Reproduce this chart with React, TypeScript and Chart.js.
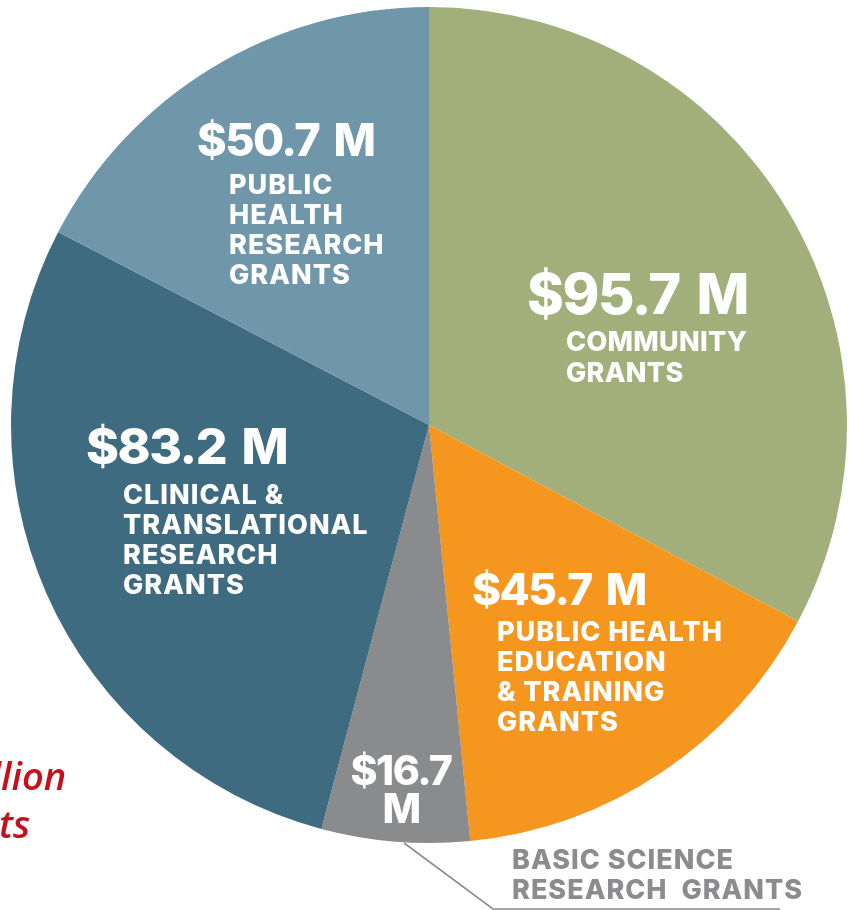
import React, { useEffect, useRef } from "react";
import { Chart, registerables } from "chart.js";

Chart.register(...registerables);

const categories = [
  "COMMUNITY GRANTS",
  "PUBLIC HEALTH EDUCATION & TRAINING GRANTS",
  "BASIC SCIENCE RESEARCH GRANTS",
  "CLINICAL & TRANSLATIONAL RESEARCH GRANTS",
  "PUBLIC HEALTH RESEARCH GRANTS",
];
const values = [95.7, 45.7, 16.7, 83.2, 50.7];
const valueLabels = ["$95.7 M", "$45.7 M", "$16.7\nM", "$83.2 M", "$50.7 M"];
const subLabels = [
  ["COMMUNITY", "GRANTS"],
  ["PUBLIC HEALTH", "EDUCATION", "& TRAINING", "GRANTS"],
  [],
  ["CLINICAL &", "TRANSLATIONAL", "RESEARCH", "GRANTS"],
  ["PUBLIC", "HEALTH", "RESEARCH", "GRANTS"],
];
const outsideLabel = ["BASIC SCIENCE", "RESEARCH  GRANTS"];
const titleLines = ["$292 Million", "in Grants"];
const titleTails = ["lion", "ts"];
const colors = ["#A2AF7B", "#F5961F", "#8A8B8D", "#3E6B80", "#7096A9"];

// layout (offsets from pie centre)
const layout = [
  { vx: 98, vy: -128, vs: 56, align: "left", sx: 137, sy: -82, lh: 31, ss: 27, sls: 0.3 },
  { vx: 43, vy: 167, vs: 44, align: "left", sx: 68, sy: 208, lh: 30, ss: 27, sls: 1 },
  { vx: -28, vy: 348, vs: 41, align: "center", sx: 0, sy: 0, lh: 38, ss: 27, sls: 1 },
  { vx: -343, vy: 24, vs: 50, align: "left", sx: -306, sy: 71, lh: 30, ss: 27, sls: 1 },
  { vx: -232, vy: -283, vs: 45, align: "left", sx: -200, sy: -239, lh: 30, ss: 27, sls: 1 },
];

const FONT = "Inter, 'Open Sans', sans-serif";

const labelPlugin = {
  id: "sliceLabels",
  afterDraw(chart: any) {
    const ctx = chart.ctx;
    const arc = chart.getDatasetMeta(0).data[0];
    if (!arc) return;
    const cx = arc.x;
    const cy = arc.y;
    ctx.save();
    ctx.textBaseline = "middle";
    layout.forEach((l, i) => {
      ctx.fillStyle = "#ffffff";
      ctx.textAlign = l.align;
      ctx.letterSpacing = "-1.5px";
      ctx.wordSpacing = "6px";
      ctx.font = `800 ${l.vs}px ${FONT}`;
      const vlines = valueLabels[i].split("\n");
      vlines.forEach((t, j) => ctx.fillText(t, cx + l.vx, cy + l.vy + j * l.lh));
      ctx.wordSpacing = "0px";
      ctx.letterSpacing = `${l.sls}px`;
      ctx.font = `800 ${l.ss}px ${FONT}`;
      ctx.textAlign = "left";
      subLabels[i].forEach((t, j) => ctx.fillText(t, cx + l.sx, cy + l.sy + j * l.lh));
    });
    // outside label for basic science
    ctx.fillStyle = "#8C8C8E";
    ctx.letterSpacing = "1px";
    ctx.font = `800 27px ${FONT}`;
    ctx.textAlign = "left";
    outsideLabel.forEach((t, j) => ctx.fillText(t, cx + 83, cy + 436 + j * 30));
    ctx.letterSpacing = "0px";
    ctx.strokeStyle = "#8C8C8E";
    ctx.lineWidth = 1.6;
    ctx.beginPath();
    ctx.moveTo(cx - 25, cy + 418);
    ctx.lineTo(cx + 64, cy + 484);
    ctx.lineTo(cx + 351, cy + 484);
    ctx.stroke();
    // partially visible title text on the left
    ctx.fillStyle = "#C4121D";
    ctx.font = `italic 600 38px 'Open Sans', sans-serif`;
    ctx.textAlign = "right";
    ctx.textBaseline = "alphabetic";
    const starts = [1, -1];
    const baselines = [790, 838];
    titleLines.forEach((t, j) => {
      const w = ctx.measureText(titleTails[j]).width;
      ctx.fillText(t, starts[j] + w, baselines[j]);
    });
    ctx.restore();
  },
};

export default function App() {
  const ref = useRef<HTMLCanvasElement>(null);
  useEffect(() => {
    if (!ref.current) return;
    const chart = new Chart(ref.current, {
      type: "pie",
      data: {
        labels: categories,
        datasets: [
          {
            data: values,
            backgroundColor: colors,
            borderWidth: 0,
          },
        ],
      },
      options: {
        responsive: false,
        animation: false,
        layout: { padding: { left: 11, right: 2, top: 7, bottom: 67 } },
        plugins: { legend: { display: false }, tooltip: { enabled: false } },
      },
      plugins: [labelPlugin],
    });
    return () => chart.destroy();
  }, []);
  return (
    <div style={{ position: "absolute", left: 0, top: 0, width: 849, height: 910, background: "#fff" }}>
      <canvas ref={ref} width={849} height={910} />
    </div>
  );
}
